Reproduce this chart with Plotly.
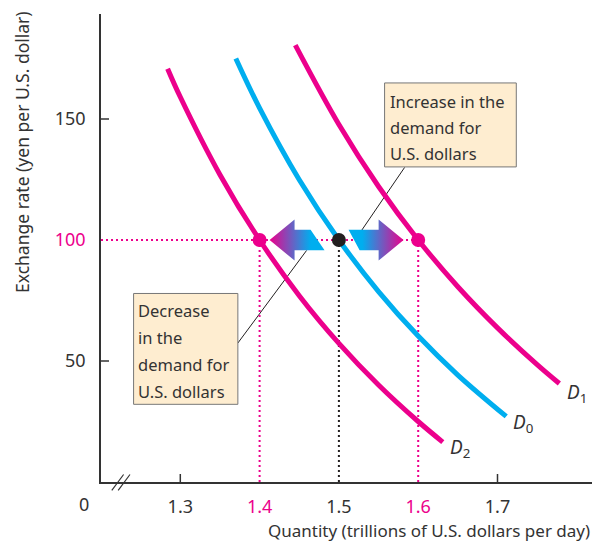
import plotly.graph_objects as go

# ---- data ----
d2_x = [1.284, 1.30, 1.35, 1.40, 1.45, 1.50, 1.55, 1.60, 1.631]
d2_y = [170.8, 159.1, 127.0, 100, 77.0, 57.3, 40.1, 25.0, 16.5]
d0_x = [1.370, 1.40, 1.45, 1.50, 1.55, 1.60, 1.65, 1.711]
d0_y = [175.0, 154.5, 124.9, 100, 78.7, 60.3, 44.2, 27.1]
d1_x = [1.445, 1.50, 1.55, 1.60, 1.65, 1.70, 1.75, 1.778]
d1_y = [180.5, 147.7, 122.1, 100, 80.7, 63.7, 48.5, 40.7]

rate = 100
q_d2, q_d0, q_d1 = 1.4, 1.5, 1.6

x_ticks = [1.3, 1.4, 1.5, 1.6, 1.7]
x_labels = ["1.3", "1.4", "1.5", "1.6", "1.7"]
y_ticks = [50, 100, 150]
y_labels = ["50", "100", "150"]

MAG = "#EC008C"
BLUE = "#00AEEF"
DARK = "#231F20"
AX = "#333333"
BOXF = "#FEEDD0"
FONT = "Noto Sans"

fig = go.Figure()

# dotted guide lines
fig.add_trace(go.Scatter(x=[1.2, q_d1], y=[rate, rate], mode="lines",
                         line=dict(color=MAG, width=2, dash="2px,3px"), hoverinfo="skip"))
for q, c in [(q_d2, MAG), (q_d1, MAG), (q_d0, DARK)]:
    fig.add_trace(go.Scatter(x=[q, q], y=[0, rate], mode="lines",
                             line=dict(color=c, width=2, dash="2px,3px"), hoverinfo="skip"))

# curves
for xs, ys, c in [(d2_x, d2_y, MAG), (d0_x, d0_y, BLUE), (d1_x, d1_y, MAG)]:
    fig.add_trace(go.Scatter(x=xs, y=ys, mode="lines", line=dict(color=c, width=5, shape="spline"),
                             hoverinfo="skip"))

# gradient arrows (decoration)
hh, sh = 8.5, 4.2
lx = [1.4126, 1.4441, 1.4441, 1.4643, 1.4819, 1.4441, 1.4441, 1.4126]
ly = [rate, rate + hh, rate + sh, rate + sh, rate - sh, rate - sh, rate - hh, rate]
fig.add_trace(go.Scatter(x=lx, y=ly, mode="lines", fill="toself", line=dict(width=0),
                         fillgradient=dict(type="horizontal",
                                           colorscale=[[0, MAG], [0.75, BLUE], [1, BLUE]]),
                         hoverinfo="skip"))
rx = [1.5122, 1.5501, 1.5501, 1.5816, 1.5501, 1.5501, 1.5261, 1.5122]
ry = [rate + sh, rate + sh, rate + hh, rate, rate - hh, rate - sh, rate - sh, rate + sh]
fig.add_trace(go.Scatter(x=rx, y=ry, mode="lines", fill="toself", line=dict(width=0),
                         fillgradient=dict(type="horizontal",
                                           colorscale=[[0, BLUE], [0.25, BLUE], [1, MAG]]),
                         hoverinfo="skip"))

# equilibrium points
fig.add_trace(go.Scatter(x=[q_d2, q_d1], y=[rate, rate], mode="markers",
                         marker=dict(color=MAG, size=14), hoverinfo="skip"))
fig.add_trace(go.Scatter(x=[q_d0], y=[rate], mode="markers",
                         marker=dict(color=DARK, size=14), hoverinfo="skip"))

shapes = []
# leader lines
shapes.append(dict(type="line", xref="x", yref="y", x0=1.5829, y0=130.0, x1=1.5287, y1=104.0,
                   line=dict(color=DARK, width=1), layer="below"))
shapes.append(dict(type="line", xref="x", yref="y", x0=1.3723, y0=57.3, x1=1.4593, y1=95.7,
                   line=dict(color=DARK, width=1), layer="below"))
# boxes
shapes.append(dict(type="rect", xref="x", yref="y", x0=1.5576, y0=130.2, x1=1.7237, y1=164.9,
                   fillcolor=BOXF, line=dict(color="#777777", width=1)))
shapes.append(dict(type="rect", xref="x", yref="y", x0=1.2411, y0=32.1, x1=1.3726, y1=77.9,
                   fillcolor=BOXF, line=dict(color="#777777", width=1)))
# plain tick marks
for t in [1.3, 1.7]:
    shapes.append(dict(type="line", xref="x", yref="paper", x0=t, x1=t, y0=0, y1=8 / 468,
                       line=dict(color=AX, width=1.5)))
for t in [50, 150]:
    shapes.append(dict(type="line", xref="paper", yref="y", x0=0, x1=8 / 491, y0=t, y1=t,
                       line=dict(color=AX, width=1.5)))
# axis break marks
for dx in [0.0, 0.013]:
    shapes.append(dict(type="line", xref="paper", yref="paper", x0=0.022 + dx, y0=-0.018,
                       x1=0.046 + dx, y1=0.016, line=dict(color=AX, width=1.2)))

annotations = []
def txt(x, y, s, size=18, color=AX, xanchor="left", xref="x", yref="y", **kw):
    annotations.append(dict(x=x, y=y, xref=xref, yref=yref, text=s, showarrow=False,
                            xanchor=xanchor, yanchor="middle",
                            font=dict(family=FONT, size=size, color=color), **kw))

for i, line in enumerate(["Increase in the", "demand for", "U.S. dollars"]):
    txt(1.5620, [157.3, 146.6, 135.8][i], line, size=16.5)
for i, line in enumerate(["Decrease", "in the", "demand for", "U.S. dollars"]):
    txt(1.2440, [70.9, 59.8, 48.6, 37.5][i], line, size=16.5)

txt(1.7997, 36.7, "<i>D</i><sub>1</sub>", size=19, xanchor="center")
txt(1.7317, 24.2, "<i>D</i><sub>0</sub>", size=19, xanchor="center")
txt(1.6522, 13.9, "<i>D</i><sub>2</sub>", size=19, xanchor="center")

txt(-0.0346, -0.047, "0", xanchor="center", xref="paper", yref="paper")
txt(-0.161, 0.705, "Exchange rate (yen per U.S. dollar)", size=17.5, xanchor="center",
    xref="paper", yref="paper", textangle=-90)
txt(1.0, -0.104, "Quantity (trillions of U.S. dollars per day)", size=17, xanchor="right",
    xref="paper", yref="paper")

def colored(labels, ticks, hot):
    return [f"<span style='color:{MAG}'>{l}</span>" if t in hot else l
            for l, t in zip(labels, ticks)]

fig.update_layout(
    width=600, height=541,
    margin=dict(l=101, r=8, t=14, b=59),
    paper_bgcolor="white", plot_bgcolor="white",
    showlegend=False,
    shapes=shapes, annotations=annotations,
    font=dict(family=FONT, size=18, color=AX),
    xaxis=dict(range=[1.2, 1.2 + 491 / 793], showgrid=False, zeroline=False,
               showline=True, linecolor=AX, linewidth=1.5, ticks="",
               tickvals=x_ticks, ticktext=colored(x_labels, x_ticks, [1.4, 1.6]),
               ticklabelstandoff=8, tickfont=dict(size=18, color=AX)),
    yaxis=dict(range=[0, 468 / 2.42], showgrid=False, zeroline=False,
               showline=True, linecolor=AX, linewidth=1.5, ticks="",
               tickvals=y_ticks, ticktext=colored(y_labels, y_ticks, [100]),
               ticklabelstandoff=10, tickfont=dict(size=18, color=AX)),
)

fig.write_html("out.html", config={"displayModeBar": False},
               post_script="document.body.style.margin='0';document.body.style.overflow='hidden';")
